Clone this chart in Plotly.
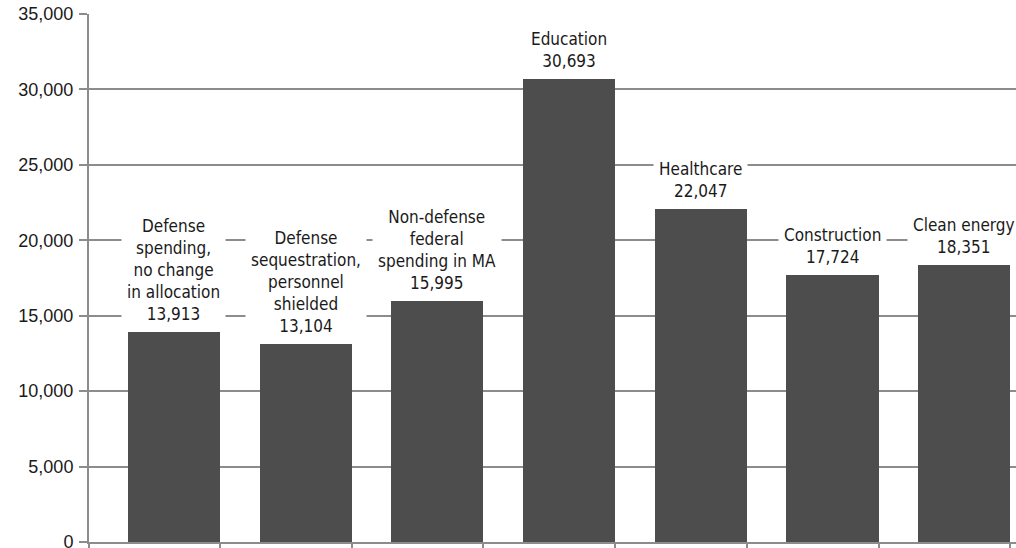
import plotly.graph_objects as go

categories = ["Defense<br>spending,<br>no change<br>in allocation",
              "Defense<br>sequestration,<br>personnel<br>shielded",
              "Non-defense<br>federal<br>spending in MA",
              "Education", "Healthcare", "Construction", "Clean energy"]
values = [13913, 13104, 15995, 30693, 22047, 17724, 18351]
y_ticks = [0, 5000, 10000, 15000, 20000, 25000, 30000, 35000]
y_tick_labels = ["0", "5,000", "10,000", "15,000", "20,000", "25,000", "30,000", "35,000"]

xs = list(range(len(values)))
FONT = "DejaVu Sans Condensed, sans-serif"

fig = go.Figure()
fig.add_trace(go.Bar(x=xs, y=values, width=0.70, marker=dict(color="#4d4d4d", line=dict(width=0)),
                     hoverinfo="skip"))

for x, c, v in zip(xs, categories, values):
    fig.add_annotation(x=x, y=v, text=f"{c}<br>{v:,}", showarrow=False, yanchor="bottom",
                       yshift=2, bgcolor="white", borderpad=5,
                       font=dict(family=FONT, size=17, color="#1a1a1a"), align="center")

fig.update_layout(
    width=1016, height=548,
    margin=dict(l=89, r=0, t=14, b=6, autoexpand=False),
    plot_bgcolor="white", paper_bgcolor="white",
    showlegend=False,
    bargap=0,
    xaxis=dict(range=[-0.645, 6.393], tickvals=[-0.645] + [i + 0.35 for i in range(7)], ticktext=[""] * 8,
               ticks="outside", ticklen=5, tickcolor="#8c8c8c", tickwidth=1.5, automargin=False,
               showgrid=False, showline=True, linecolor="#8c8c8c", linewidth=2, zeroline=False),
    yaxis=dict(range=[0, 35000], tickvals=y_ticks, ticktext=y_tick_labels,
               ticks="outside", ticklen=8, tickcolor="#8c8c8c", tickwidth=1.5, automargin=False,
               showgrid=True, gridcolor="#8c8c8c", gridwidth=1.5,
               showline=True, linecolor="#8c8c8c", linewidth=2, zeroline=False,
               tickfont=dict(family="Arial, Liberation Sans, sans-serif", size=18, color="#1a1a1a"),
               ticklabelstandoff=2, ticklabeloverflow="allow"),
)

fig.write_html("out.html")
